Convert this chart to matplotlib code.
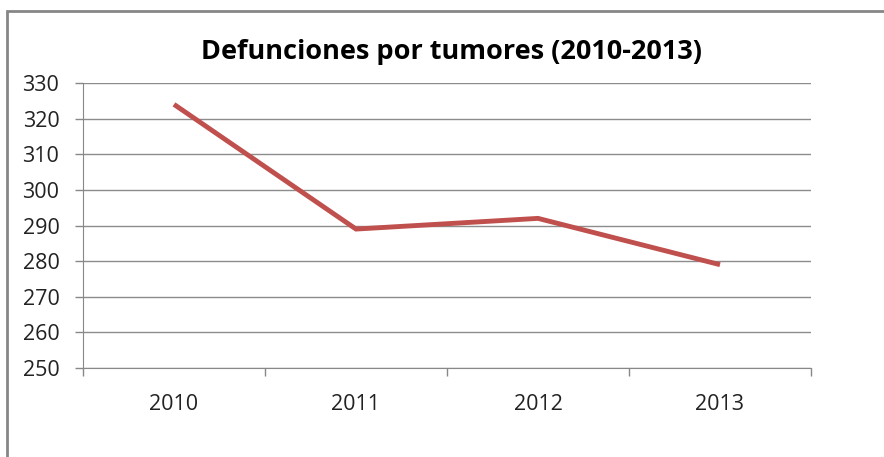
import matplotlib
matplotlib.use("Agg")
import matplotlib.pyplot as plt
from matplotlib.patches import Rectangle

years = ["2010", "2011", "2012", "2013"]
deaths = [324, 289, 292, 279]

plt.rcParams['font.family'] = ['Open Sans', 'DejaVu Sans']

fig = plt.figure(figsize=(8.84, 4.57), dpi=100)
ax = fig.add_axes([83/884, 1-368/457, (811-83)/884, (368-83)/457])

# outer chart frame
fig.patches.append(Rectangle((7.5/884, -0.05), 1.2, 1.05-10.5/457, transform=fig.transFigure,
                             fill=False, edgecolor='#868686', linewidth=2))

x = list(range(len(years)))
ax.plot(x, deaths, color='#C0504D', linewidth=3.5, solid_joinstyle='miter', solid_capstyle='butt')

ax.set_ylim(250, 330)
ax.set_yticks(range(250, 331, 10))
ax.set_xlim(-0.5, len(years)-0.5)
ax.set_xticks(x)
ax.set_xticklabels(years)
ax.set_xticks([i-0.5 for i in range(len(years)+1)], minor=True)
ax.tick_params(axis='x', which='major', length=0, pad=19, labelsize=15.5, colors='#222222')
ax.tick_params(axis='x', which='minor', length=6, width=1, color='#888888', direction='out')
ax.tick_params(axis='y', length=6, width=1, color='#888888', labelsize=15.5, labelcolor='#222222', pad=11)

ax.grid(axis='y', color='#8c8c8c', linewidth=1)
ax.set_axisbelow(True)
for s in ['top', 'right']:
    ax.spines[s].set_visible(False)
ax.spines['left'].set_color('#888888')
ax.spines['bottom'].set_color('#888888')

fig.text(452/884, 1-52/457, "Defunciones por tumores (2010-2013)", ha='center', va='center',
         fontsize=19.5, fontweight='bold', color='#000000')

fig.savefig("out.png", dpi=100)
